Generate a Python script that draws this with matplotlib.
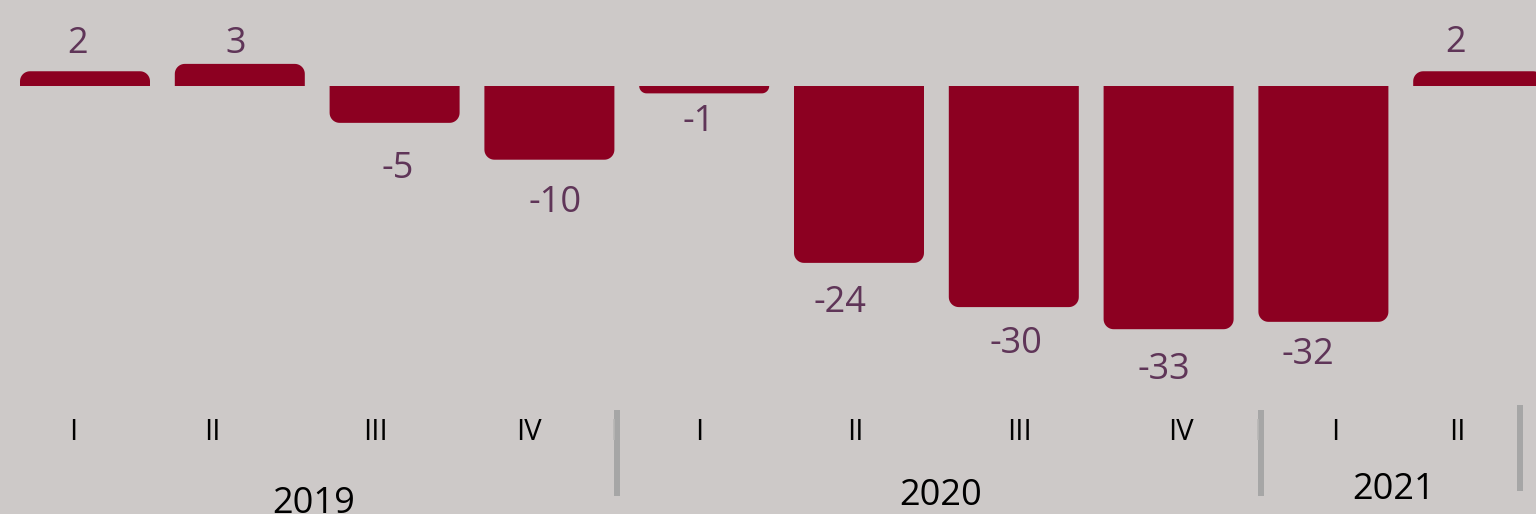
import numpy as np
import matplotlib
matplotlib.use("Agg")
import matplotlib.pyplot as plt
from matplotlib.path import Path
from matplotlib.patches import PathPatch

# ---- data ----
quarters = ["I", "II", "III", "IV", "I", "II", "III", "IV", "I", "II"]
years = ["2019", "2020", "2021"]
values = [2, 3, -5, -10, -1, -24, -30, -33, -32, 2]

# ---- style / layout ----
W, H = 1536, 514
BG = "#cdc9c8"
BAR = "#8c0021"
LBL = "#5f3558"
SEP = "#a6a6a6"
FONT = ["Open Sans", "DejaVu Sans"]

# pixel layout (x centre, baseline)
value_lbl_px = [(78, 53), (236, 53), (398, 178), (555, 212), (699, 131),
                (840, 312), (1016, 353), (1164, 379), (1308, 364), (1456, 52)]
quarter_x_px = [73, 212, 376, 529, 699, 855, 1019, 1181, 1335, 1457]
quarter_base_px = 440
year_px = [(314, 513), (941, 505), (1394, 499)]
sep_px = [(617, 410, 496), (1261, 410, 496), (1520, 405, 491)]

fig = plt.figure(figsize=(W / 100, H / 100), dpi=100, facecolor=BG)
ax = fig.add_axes([0, 0, 1, 1], facecolor=BG)

step_px = 154.8
first_px = 85
zero_px = 86
unit_px = 7.37
ax.set_xlim(-first_px / step_px, (W - first_px) / step_px)
ax.set_ylim(-(H - zero_px) / unit_px, zero_px / unit_px)
ax.axis("off")

x = np.arange(len(values))
bars = ax.bar(x, values, width=130 / step_px, color=BAR, linewidth=0)

# replace rectangles by bars rounded at their far end
fig.canvas.draw()
px_x = ax.transData.transform((1, 0))[0] - ax.transData.transform((0, 0))[0]
px_y = ax.transData.transform((0, 1))[1] - ax.transData.transform((0, 0))[1]
for rect, v in zip(bars.patches, values):
    x0 = rect.get_x()
    x1 = x0 + rect.get_width()
    hpx = abs(v) * px_y
    r = min(10.0, hpx)
    rx, ry = r / px_x, r / px_y
    s = 1 if v > 0 else -1
    tip = v
    t = np.linspace(0, np.pi / 2, 12)
    verts = [(x0, 0), (x0, tip - s * ry)]
    # left corner
    for a in t:
        verts.append((x0 + rx - rx * np.cos(a), tip - s * ry + s * ry * np.sin(a)))
    verts.append((x1 - rx, tip))
    for a in t:
        verts.append((x1 - rx + rx * np.sin(a), tip - s * ry + s * ry * np.cos(a)))
    verts.append((x1, 0))
    verts.append((x0, 0))
    rect.set_visible(False)
    ax.add_patch(PathPatch(Path(verts), facecolor=BAR, edgecolor="none"))

def ftext(px, py, s, **kw):
    fig.text(px / W, 1 - py / H, s, ha="center", va="baseline",
             family=FONT, **kw)

for v, (px, py) in zip(values, value_lbl_px):
    ftext(px, py, f"{v}", fontsize=26, color=LBL)

for q, px in zip(quarters, quarter_x_px):
    ftext(px, quarter_base_px, q, fontsize=21, color="black")

for yr, (px, py) in zip(years, year_px):
    ftext(px, py, yr, fontsize=26, color="black")

for px, y0, y1 in sep_px:
    fig.add_artist(plt.Line2D([px / W, px / W], [1 - y0 / H, 1 - y1 / H],
                              color=SEP, linewidth=4.3, solid_capstyle="butt"))
for px in (613.5, 1257.5):
    fig.add_artist(plt.Line2D([px / W, px / W], [1 - 419 / H, 1 - 440 / H],
                              color="#b8b6b5", linewidth=1.2, solid_capstyle="butt"))

fig.savefig("out.png", dpi=100, facecolor=BG)
